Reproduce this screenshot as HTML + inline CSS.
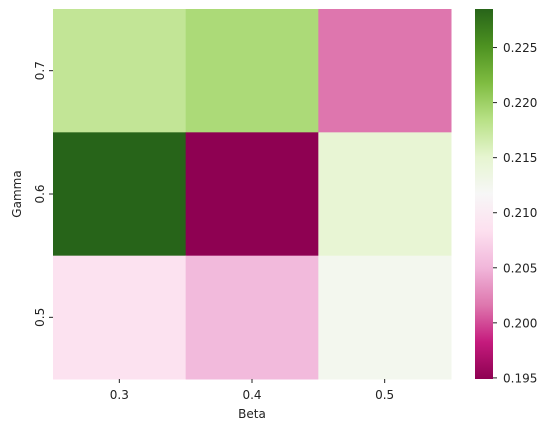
<!DOCTYPE html>
<html><head><meta charset="utf-8"><style>
body{margin:0;background:#fff;}
svg text{font-family:"DejaVu Sans","Liberation Sans",sans-serif;font-size:12px;fill:#222;}
</style></head><body>
<svg id="chart" width="552" height="432" xmlns="http://www.w3.org/2000/svg">
<defs><linearGradient id="cb" x1="0" y1="1" x2="0" y2="0"></linearGradient></defs>
<g id="cells"></g>
<g id="axes"></g>
<rect x="475" y="9" width="18" height="370" fill="url(#cb)"/>
<g id="cbticks"></g>
<text x="252" y="418" text-anchor="middle">Beta</text>
<text transform="translate(21,194) rotate(-90)" text-anchor="middle">Gamma</text>
</svg>
<script>
const betas=["0.3","0.4","0.5"];
const gammas=["0.7","0.6","0.5"];
const row07=[0.2177,0.2191,0.2016];
const row06=[0.2285,0.1949,0.2147];
const row05=[0.2087,0.2053,0.2125];
const cbTicks=[0.195,0.200,0.205,0.210,0.215,0.220,0.225];
const vmin=0.1949,vmax=0.2285;
const rows=[row07,row06,row05];
const pal=["#8e0152","#c51b7d","#de77ae","#f1b6da","#fde0ef","#f7f7f7","#e6f5d0","#b8e186","#7fbc41","#4d9221","#276419"];
function hx(h){return [1,3,5].map(i=>parseInt(h.substr(i,2),16));}
function cmap(v){let f=Math.max(0,Math.min(1,(v-vmin)/(vmax-vmin)))*10;let i=Math.min(9,Math.floor(f)),t=f-i;
const a=hx(pal[i]),b=hx(pal[i+1]);return "rgb("+a.map((c,k)=>Math.round(c+(b[k]-c)*t)).join(",")+")";}
const X0=53,X1=451,Y0=9,Y1=379;
const cw=(X1-X0)/betas.length,ch=(Y1-Y0)/gammas.length;
const ns="http://www.w3.org/2000/svg";
const cells=document.getElementById('cells'),axes=document.getElementById('axes'),cbt=document.getElementById('cbticks');
function mk(t,at,p){const e=document.createElementNS(ns,t);for(const k in at)e.setAttribute(k,at[k]);p.appendChild(e);return e;}
rows.forEach((r,j)=>r.forEach((v,i)=>{
const e=mk('rect',{x:X0+i*cw,y:Y0+j*ch,width:cw+0.5,height:ch+0.5,fill:cmap(v)},cells);


}));
betas.forEach((b,i)=>{const x=X0+(i+0.5)*cw;
mk('line',{x1:x,x2:x,y1:Y1,y2:Y1+4,stroke:'#222'},axes);
const t=mk('text',{x:x,y:Y1+20,'text-anchor':'middle'},axes);t.textContent=b;

});
gammas.forEach((g,j)=>{const y=Y0+(j+0.5)*ch;
mk('line',{x1:X0-4,x2:X0,y1:y,y2:y,stroke:'#222'},axes);
const t=mk('text',{transform:'translate('+(X0-9)+','+y+') rotate(-90)','text-anchor':'middle'},axes);t.textContent=g;

});
const gr=document.getElementById('cb');
for(let k=0;k<=20;k++){const v=vmin+(vmax-vmin)*k/20;mk('stop',{offset:(k/20),'stop-color':cmap(v)},gr);}
cbTicks.forEach(v=>{const y=Y1-(v-vmin)/(vmax-vmin)*(Y1-Y0);
mk('line',{x1:493,x2:497,y1:y,y2:y,stroke:'#222'},cbt);
const t=mk('text',{x:503,y:y+4.5},cbt);t.textContent=v.toFixed(3);

});
</script>
</body></html>
